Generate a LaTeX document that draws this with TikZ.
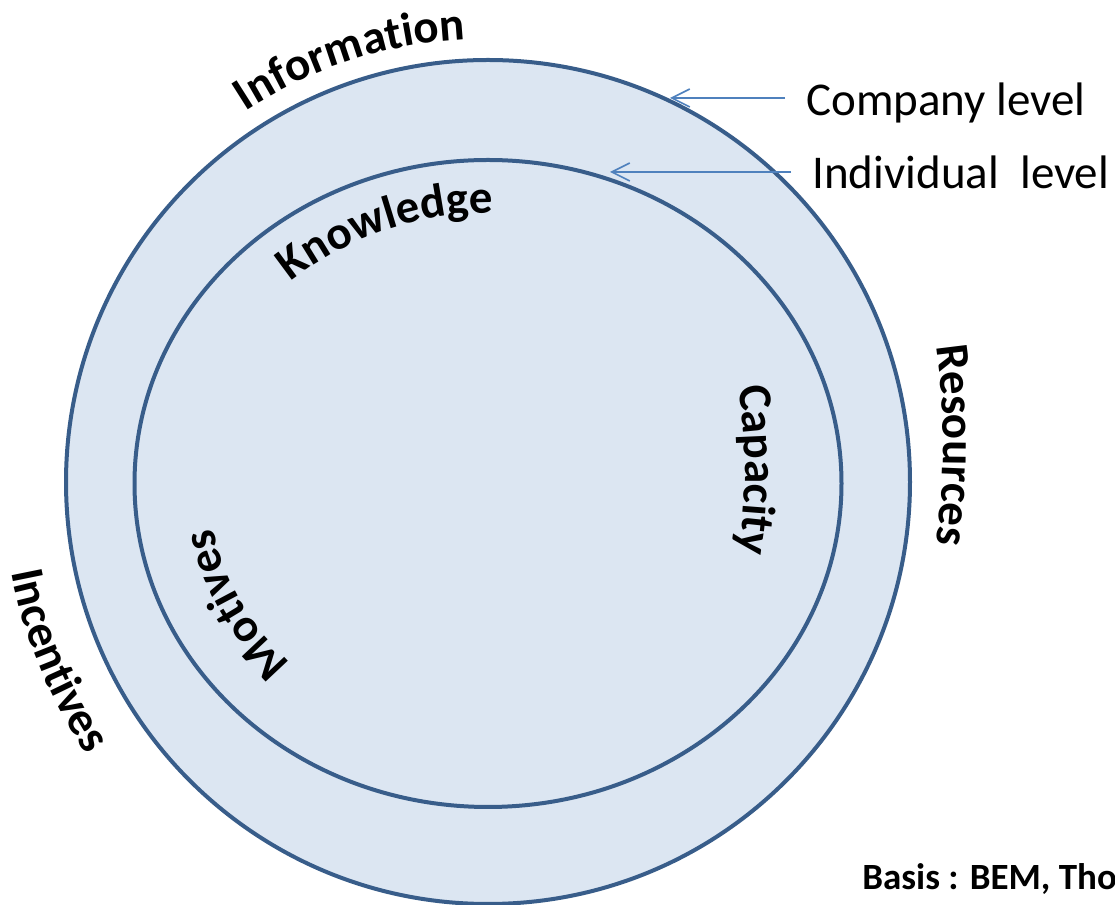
\documentclass[tikz,border=0pt]{standalone}
\usepackage{fontspec}
\setmainfont{Carlito}
\usetikzlibrary{decorations.text}
\usetikzlibrary{arrows.meta}

\definecolor{ringline}{HTML}{385D8A}
\definecolor{ringfill}{HTML}{DCE6F2}
\definecolor{levelblue}{HTML}{4F81BD}
\newcommand{\lblfont}{\fontsize{23.5}{28}\selectfont\bfseries}

\begin{document}
\begin{tikzpicture}[x=0.5pt,y=0.5pt,
  ring/.style={draw=ringline,line width=2pt,fill=ringfill},
  arc label/.style={decorate,decoration={text along path,
    text align=center,text={|\lblfont|#1}}},
  level text/.style={anchor=west,inner xsep=10.5pt,inner ysep=0pt,
    font=\fontsize{23.5}{28}\selectfont},
  level arrow/.style={draw=levelblue,line width=0.8pt,
    -{Straight Barb[length=9pt,width=9pt]}}]

 \useasboundingbox (0,0) rectangle (1115,905);

 \draw[ring] (488,423) circle[radius=422];
 \draw[ring] (488,421.5) ellipse[x radius=353.5,y radius=323.5];

 % labels round the rings
 \path[arc label=Information] ([shift={(134:443)}]488,423)
   arc[start angle=134,end angle=82,radius=443];
 \path[arc label=Incentives] ([shift={(180:485)}]488,423)
   arc[start angle=180,end angle=225,radius=485];
 \path[arc label=Resources] ([shift={(12:700)}]243,460)
   arc[start angle=12,end angle=-12,radius=700];
 \path[arc label=Knowledge] ([shift={(138.5:296 and 270)}]488,421.5)
   arc[start angle=138.5,end angle=82.5,x radius=296,y radius=270];
 \path[arc label=Motives] ([shift={(242:279 and 254)}]488,421.5)
   arc[start angle=242,end angle=172,x radius=279,y radius=254];
 \path[arc label=Capacity] ([shift={(15:500)}]245,435)
   arc[start angle=15,end angle=-15,radius=500];

 \coordinate (outtip) at (670,807);
 \coordinate (intip) at (610,733);
 \node[level text] (company) at (785,802) {Company level};
 \node[level text] (individual) at (791,733) {Individual\ \ level};
 \draw[level arrow] ([yshift=2.5pt]company.west) -- (outtip);
 \draw[level arrow] (individual.west) -- (intip);

 \node[anchor=base west,inner sep=0pt,font=\fontsize{18.5}{22}\selectfont\bfseries]
   (basis) at (862,15) {Basis : BEM, Tho};
\end{tikzpicture}
\end{document}
